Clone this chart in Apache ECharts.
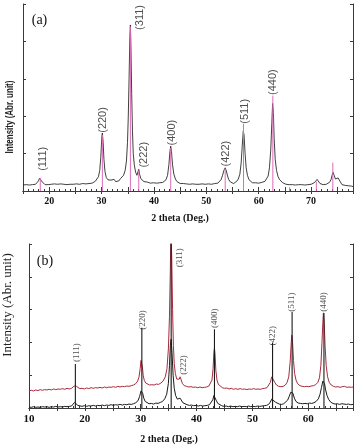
<!DOCTYPE html>
<html><head><meta charset="utf-8">
<script src="https://cdn.jsdelivr.net/npm/echarts@6/dist/echarts.min.js"></script>
<style>html,body{margin:0;padding:0;background:#fff}#c{width:357px;height:448px}</style>
</head><body><div id="c"></div>
<script>
// ---------- Panel (a) ----------
const curveA = [
[15.0,0.16],[15.3,0.14],[15.6,0.17],[15.9,0.15],[16.2,0.16],[16.5,0.14],[16.8,0.17],[17.1,0.16],[17.4,0.18],[17.7,0.21],[17.95,0.27],[18.15,0.34],[18.3,0.38],[18.5,0.33],[18.7,0.24],[18.95,0.19],[19.2,0.17],[19.5,0.15],[19.8,0.17],[20.1,0.16],[20.4,0.18],[20.7,0.16],[21.0,0.19],[21.3,0.17],[21.6,0.18],[21.9,0.16],[22.2,0.19],[22.5,0.17],[22.8,0.18],[23.1,0.2],[23.4,0.17],[23.7,0.19],[24.0,0.18],[24.3,0.2],[24.6,0.18],[24.9,0.21],[25.2,0.19],[25.5,0.2],[25.8,0.18],[26.1,0.21],[26.4,0.2],[26.7,0.22],[27.0,0.19],[27.3,0.21],[27.6,0.2],[27.9,0.23],[28.2,0.21],[28.5,0.24],[28.8,0.26],[29.1,0.3],[29.4,0.38],[29.65,0.55],[29.85,0.9],[30.05,1.45],[30.15,1.55],[30.3,1.3],[30.45,0.85],[30.65,0.52],[30.9,0.36],[31.2,0.3],[31.5,0.26],[31.8,0.29],[32.1,0.24],[32.4,0.31],[32.7,0.25],[33.0,0.3],[33.3,0.27],[33.6,0.33],[33.9,0.36],[34.2,0.42],[34.5,0.55],[34.75,0.8],[34.95,1.3],[35.1,2.0],[35.25,3.0],[35.4,4.1],[35.5,4.44],[35.6,3.9],[35.75,2.6],[35.9,1.6],[36.05,1.0],[36.25,0.7],[36.5,0.5],[36.75,0.42],[36.95,0.52],[37.1,0.58],[37.25,0.45],[37.5,0.33],[37.8,0.28],[38.1,0.25],[38.4,0.22],[38.7,0.24],[39.0,0.2],[39.3,0.21],[39.6,0.19],[39.9,0.22],[40.2,0.2],[40.5,0.21],[40.8,0.19],[41.1,0.22],[41.4,0.2],[41.7,0.23],[42.0,0.25],[42.3,0.3],[42.6,0.42],[42.85,0.7],[43.05,1.05],[43.2,1.2],[43.35,1.05],[43.55,0.7],[43.8,0.45],[44.1,0.32],[44.4,0.25],[44.7,0.22],[45.0,0.2],[45.3,0.18],[45.6,0.2],[45.9,0.17],[46.2,0.19],[46.5,0.17],[46.8,0.18],[47.1,0.16],[47.4,0.19],[47.7,0.17],[48.0,0.18],[48.3,0.16],[48.6,0.18],[48.9,0.17],[49.2,0.19],[49.5,0.17],[49.8,0.18],[50.1,0.16],[50.4,0.19],[50.7,0.17],[51.0,0.18],[51.3,0.17],[51.6,0.2],[51.9,0.19],[52.2,0.21],[52.5,0.24],[52.8,0.3],[53.1,0.42],[53.35,0.55],[53.6,0.62],[53.8,0.55],[54.05,0.4],[54.3,0.3],[54.6,0.24],[54.9,0.22],[55.2,0.2],[55.5,0.22],[55.8,0.26],[56.1,0.32],[56.4,0.45],[56.65,0.75],[56.85,1.2],[57.05,1.6],[57.2,1.5],[57.4,1.0],[57.6,0.62],[57.85,0.42],[58.15,0.3],[58.5,0.25],[58.8,0.22],[59.1,0.2],[59.4,0.22],[59.7,0.19],[60.0,0.21],[60.3,0.2],[60.6,0.23],[60.9,0.22],[61.2,0.26],[61.5,0.3],[61.8,0.4],[62.05,0.62],[62.3,1.1],[62.5,1.8],[62.65,2.34],[62.8,2.1],[62.95,1.4],[63.15,0.85],[63.4,0.55],[63.7,0.38],[64.0,0.3],[64.3,0.25],[64.6,0.22],[64.9,0.2],[65.2,0.18],[65.5,0.2],[65.8,0.17],[66.1,0.19],[66.4,0.17],[66.7,0.18],[67.0,0.16],[67.3,0.18],[67.6,0.17],[67.9,0.19],[68.2,0.17],[68.5,0.18],[68.8,0.16],[69.1,0.18],[69.4,0.17],[69.7,0.19],[70.0,0.18],[70.3,0.2],[70.6,0.22],[70.9,0.27],[71.15,0.31],[71.4,0.26],[71.7,0.2],[72.0,0.18],[72.3,0.17],[72.6,0.19],[72.9,0.18],[73.2,0.2],[73.5,0.23],[73.8,0.3],[74.0,0.42],[74.2,0.5],[74.4,0.42],[74.65,0.32],[74.9,0.3],[75.15,0.35],[75.35,0.33],[75.6,0.24],[75.9,0.17],[76.2,0.14],[76.5,0.15],[76.8,0.13],[77.1,0.14],[77.4,0.12],[77.7,0.13],[78.0,0.12]
];
const sticksAx = [18.3, 30.15, 35.5, 37.1, 43.2, 53.6, 57.1, 62.7, 65.9, 71.0, 74.15];
const sticksAh = [0.35, 1.5, 4.4, 0.55, 1.15, 0.6, 1.8, 2.55, 0.1, 0.25, 0.76];
const hklA   = ['(111)','(220)','(311)','(222)','(400)','(422)','(511)','(440)'];
const hklAx  = [18.8, 30.3, 37.3, 38.0, 43.5, 53.75, 57.4, 62.7];
const hklAy  = [0.86, 1.9, 4.64, 0.97, 1.56, 1.0, 2.13, 2.91];

// ---------- Panel (b) ----------
const redB = [
[10,0.52],[10.4,0.54],[10.8,0.52],[11.2,0.55],[11.6,0.53],[12.0,0.56],[12.4,0.54],[12.8,0.56],[13.2,0.55],[13.6,0.57],[14.0,0.55],[14.4,0.58],[14.8,0.56],[15.2,0.58],[15.6,0.57],[16.0,0.59],[16.4,0.57],[16.8,0.6],[17.2,0.58],[17.6,0.6],[17.9,0.62],[18.1,0.67],[18.3,0.72],[18.5,0.66],[18.75,0.61],[19.1,0.59],[19.5,0.6],[19.9,0.58],[20.3,0.61],[20.7,0.59],[21.1,0.62],[21.5,0.6],[21.9,0.62],[22.3,0.61],[22.7,0.63],[23.1,0.61],[23.5,0.64],[23.9,0.62],[24.3,0.64],[24.7,0.63],[25.1,0.65],[25.5,0.63],[25.9,0.66],[26.3,0.64],[26.7,0.66],[27.1,0.65],[27.5,0.67],[27.9,0.66],[28.3,0.68],[28.7,0.7],[29.1,0.74],[29.45,0.82],[29.7,0.95],[29.9,1.2],[30.05,1.45],[30.15,1.5],[30.3,1.25],[30.45,0.98],[30.65,0.84],[30.9,0.76],[31.2,0.72],[31.6,0.7],[32.0,0.71],[32.4,0.7],[32.8,0.73],[33.2,0.72],[33.6,0.76],[34.0,0.82],[34.4,0.95],[34.7,1.2],[34.95,1.8],[35.15,2.8],[35.3,4.2],[35.4,5.4],[35.55,4.6],[35.7,3.0],[35.85,1.9],[36.0,1.35],[36.2,1.05],[36.45,0.88],[36.7,0.82],[36.9,0.88],[37.05,0.95],[37.2,0.88],[37.45,0.75],[37.8,0.68],[38.2,0.66],[38.6,0.64],[39.0,0.65],[39.4,0.63],[39.8,0.64],[40.2,0.62],[40.6,0.64],[41.0,0.62],[41.4,0.63],[41.8,0.64],[42.2,0.67],[42.5,0.72],[42.75,0.85],[42.95,1.2],[43.1,1.7],[43.2,1.83],[43.3,1.65],[43.45,1.15],[43.65,0.85],[43.9,0.72],[44.2,0.66],[44.6,0.62],[45.0,0.6],[45.4,0.61],[45.8,0.58],[46.2,0.6],[46.6,0.57],[47.0,0.59],[47.4,0.57],[47.8,0.59],[48.2,0.57],[48.6,0.58],[49.0,0.56],[49.4,0.58],[49.8,0.57],[50.2,0.59],[50.6,0.57],[51.0,0.58],[51.4,0.57],[51.8,0.59],[52.2,0.6],[52.6,0.62],[52.95,0.68],[53.2,0.78],[53.45,0.95],[53.6,1.0],[53.75,0.92],[54.0,0.78],[54.3,0.7],[54.7,0.66],[55.1,0.65],[55.5,0.66],[55.9,0.7],[56.2,0.78],[56.5,0.95],[56.75,1.4],[56.95,2.0],[57.05,2.22],[57.2,1.95],[57.35,1.45],[57.55,1.05],[57.8,0.85],[58.1,0.74],[58.5,0.68],[58.9,0.66],[59.3,0.65],[59.7,0.66],[60.1,0.65],[60.5,0.67],[60.9,0.68],[61.3,0.71],[61.7,0.78],[62.0,0.92],[62.25,1.3],[62.45,2.0],[62.6,2.6],[62.7,2.9],[62.85,2.6],[63.0,1.9],[63.2,1.3],[63.45,0.95],[63.75,0.78],[64.1,0.7],[64.5,0.66],[64.9,0.64],[65.3,0.65],[65.7,0.63],[66.1,0.65],[66.5,0.66],[66.9,0.63],[67.3,0.64],[67.7,0.63],[68.0,0.64]
];
const blackB = [
[10,0.03],[10.4,0.02],[10.8,0.04],[11.2,0.02],[11.6,0.03],[12.0,0.02],[12.4,0.04],[12.8,0.03],[13.2,0.04],[13.6,0.02],[14.0,0.04],[14.4,0.03],[14.8,0.05],[15.2,0.03],[15.6,0.04],[16.0,0.03],[16.4,0.05],[16.8,0.04],[17.2,0.05],[17.6,0.06],[17.95,0.1],[18.15,0.17],[18.3,0.21],[18.5,0.14],[18.75,0.08],[19.1,0.06],[19.5,0.05],[19.9,0.07],[20.3,0.05],[20.7,0.07],[21.1,0.06],[21.5,0.08],[21.9,0.06],[22.3,0.08],[22.7,0.07],[23.1,0.09],[23.5,0.07],[23.9,0.09],[24.3,0.08],[24.7,0.1],[25.1,0.08],[25.5,0.1],[25.9,0.09],[26.3,0.11],[26.7,0.09],[27.1,0.11],[27.5,0.1],[27.9,0.12],[28.3,0.11],[28.7,0.13],[29.1,0.16],[29.5,0.22],[29.8,0.35],[30.05,0.52],[30.2,0.55],[30.35,0.45],[30.55,0.3],[30.8,0.2],[31.1,0.15],[31.5,0.13],[31.9,0.14],[32.3,0.12],[32.7,0.15],[33.1,0.14],[33.5,0.17],[33.9,0.2],[34.3,0.28],[34.65,0.42],[34.95,0.75],[35.15,1.3],[35.3,1.9],[35.45,2.1],[35.6,1.7],[35.8,1.0],[36.0,0.6],[36.25,0.38],[36.55,0.27],[36.85,0.26],[37.05,0.3],[37.25,0.24],[37.55,0.16],[37.9,0.12],[38.3,0.1],[38.7,0.08],[39.1,0.09],[39.5,0.07],[39.9,0.08],[40.3,0.06],[40.7,0.08],[41.1,0.06],[41.5,0.07],[41.9,0.08],[42.3,0.1],[42.65,0.15],[42.9,0.25],[43.1,0.38],[43.2,0.42],[43.35,0.35],[43.55,0.22],[43.8,0.14],[44.1,0.09],[44.5,0.07],[44.9,0.05],[45.3,0.06],[45.7,0.04],[46.1,0.06],[46.5,0.04],[46.9,0.05],[47.3,0.04],[47.7,0.06],[48.1,0.04],[48.5,0.05],[48.9,0.04],[49.3,0.06],[49.7,0.04],[50.1,0.05],[50.5,0.04],[50.9,0.06],[51.3,0.05],[51.7,0.06],[52.1,0.07],[52.5,0.08],[52.9,0.11],[53.2,0.18],[53.45,0.27],[53.6,0.3],[53.8,0.25],[54.1,0.18],[54.4,0.14],[54.8,0.12],[55.2,0.11],[55.6,0.13],[55.95,0.17],[56.3,0.24],[56.6,0.36],[56.85,0.48],[57.05,0.52],[57.25,0.45],[57.5,0.3],[57.8,0.2],[58.2,0.15],[58.6,0.14],[59.0,0.13],[59.4,0.14],[59.8,0.13],[60.2,0.15],[60.6,0.14],[61.0,0.16],[61.4,0.2],[61.8,0.28],[62.1,0.42],[62.35,0.62],[62.6,0.82],[62.75,0.86],[62.9,0.75],[63.1,0.55],[63.35,0.38],[63.65,0.26],[64.0,0.18],[64.4,0.14],[64.8,0.12],[65.2,0.13],[65.6,0.11],[66.0,0.13],[66.4,0.12],[66.8,0.11],[67.2,0.12],[67.6,0.1],[68.0,0.11]
];
const sticksBx = [18.3, 30.2, 35.45, 43.2, 53.6, 57.1, 62.8];
const sticksBh = [1.34, 2.45, 5.0, 2.4, 2.0, 2.93, 2.9];
const hklB   = ['(111)','(220)','(311)','(222)','(400)','(422)','(511)','(440)'];
const hklBx  = [18.5, 30.3, 37.0, 37.75, 43.3, 53.7, 57.0, 62.7];
const hklBy  = [1.69, 2.68, 4.58, 1.31, 2.74, 2.2, 3.23, 3.23];

const xTicksA = [20, 30, 40, 50, 60, 70];
const xTicksB = [10, 20, 30, 40, 50, 60];

const chart = echarts.init(document.getElementById('c'), null, {renderer: 'canvas'});
const frame = '#3a3a3a';
const serif = 'Liberation Serif';
const sans = 'Liberation Sans';

function stickSeries(xs, hs, xi, yi, color, w) {
  return {
    type: 'custom', xAxisIndex: xi, yAxisIndex: yi, silent: true, z: 4, clip: true,
    data: xs.map((x, i) => [x, hs[i]]),
    renderItem: function (params, api) {
      const p0 = api.coord([api.value(0), 0]);
      const p1 = api.coord([api.value(0), api.value(1)]);
      return {type: 'line', shape: {x1: p0[0], y1: p0[1], x2: p1[0], y2: p1[1]},
              style: {stroke: color, lineWidth: w}};
    }
  };
}
function labelSeries(names, xs, ys, xi, yi, font, size) {
  return {
    type: 'scatter', xAxisIndex: xi, yAxisIndex: yi, silent: true, z: 6,
    symbol: 'circle', symbolSize: 1, itemStyle: {color: 'rgba(255,255,255,0)'},
    data: names.map((n, i) => ({value: [xs[i], ys[i]], name: n})),
    label: {show: true, position: 'inside', rotate: 90, formatter: '{b}',
            fontFamily: font, fontSize: size, color: '#222', align: 'center', verticalAlign: 'middle'},
    labelLayout: {hideOverlap: false}
  };
}
function xAxes(grid, min, max, labels, labelSize, labelMargin) {
  return [
    {type: 'value', gridIndex: grid, position: 'bottom', min: min, max: max, interval: 5,
     axisLine: {show: true, lineStyle: {color: frame, width: 1}},
     axisTick: {show: true, inside: true, length: 4, lineStyle: {color: frame}},
     minorTick: {show: true, splitNumber: 5, length: 2, lineStyle: {color: frame}},
     splitLine: {show: false},
     axisLabel: {show: true, interval: 0, margin: labelMargin, fontFamily: serif, fontWeight: 'bold',
                 fontSize: labelSize, color: '#111', hideOverlap: false,
                 formatter: v => labels.indexOf(v) >= 0 ? String(v) : ''}},
    {type: 'value', gridIndex: grid, position: 'top', min: min, max: max, interval: 5,
     axisLine: {show: true, lineStyle: {color: frame, width: 1}},
     axisTick: {show: true, inside: true, length: 3, lineStyle: {color: frame}},
     splitLine: {show: false}, axisLabel: {show: false}}
  ];
}
function yAxes(grid) {
  return [
    {type: 'value', gridIndex: grid, position: 'left', min: 0, max: 5, interval: 1,
     axisLine: {show: true, lineStyle: {color: frame, width: 1}},
     axisTick: {show: true, inside: true, length: 3, lineStyle: {color: frame}},
     splitLine: {show: false}, axisLabel: {show: false}},
    {type: 'value', gridIndex: grid, position: 'right', min: 0, max: 5, interval: 1,
     axisLine: {show: true, lineStyle: {color: frame, width: 1}},
     axisTick: {show: true, inside: true, length: 3, lineStyle: {color: frame}},
     splitLine: {show: false}, axisLabel: {show: false}}
  ];
}

const option = {
  animation: false,
  backgroundColor: '#fff',
  grid: [
    {left: 23, right: 4, top: 4, bottom: 257, containLabel: false},
    {left: 29, right: 4, top: 244, bottom: 40, containLabel: false}
  ],
  xAxis: [...xAxes(0, 15, 78, xTicksA, 10, 5), ...xAxes(1, 10, 68, xTicksB, 11, 6)],
  yAxis: [...yAxes(0), ...yAxes(1)],
  series: [
    {type: 'line', xAxisIndex: 0, yAxisIndex: 0, data: curveA, showSymbol: false, symbol: 'none',
     lineStyle: {color: '#2a2a2a', width: 0.9}, z: 3, silent: true},
    stickSeries(sticksAx, sticksAh, 0, 0, '#dc6cb8', 1),
    labelSeries(hklA, hklAx, hklAy, 0, 0, sans, 11),
    {type: 'line', xAxisIndex: 2, yAxisIndex: 2, data: redB, showSymbol: false, symbol: 'none',
     lineStyle: {color: '#a82a3c', width: 1}, z: 3, silent: true, clip: true},
    {type: 'line', xAxisIndex: 2, yAxisIndex: 2, data: blackB, showSymbol: false, symbol: 'none',
     lineStyle: {color: '#1a1a1a', width: 1}, z: 3, silent: true, clip: true},
    stickSeries(sticksBx, sticksBh, 2, 2, '#1a1a1a', 1.1),
    labelSeries(hklB, hklBx, hklBy, 2, 2, serif, 9)
  ],
  graphic: [
    {type: 'text', x: 39.5, y: 20, silent: true,
     style: {text: '(a)', font: '14px "Liberation Serif"', fill: '#111', textAlign: 'center', textVerticalAlign: 'middle'}},
    {type: 'text', x: 45, y: 261, silent: true,
     style: {text: '(b)', font: '14px "Liberation Serif"', fill: '#111', textAlign: 'center', textVerticalAlign: 'middle'}},
    {type: 'text', x: 180, y: 218, silent: true,
     style: {text: '2 theta (Deg.)', font: 'bold 10px "Liberation Serif"', fill: '#111', textAlign: 'center', textVerticalAlign: 'middle'}},
    {type: 'text', x: 169, y: 439, silent: true,
     style: {text: '2 theta (Deg.)', font: 'bold 10px "Liberation Serif"', fill: '#111', textAlign: 'center', textVerticalAlign: 'middle'}},
    {type: 'text', x: 10, y: 117, rotation: Math.PI / 2, scaleX: 0.8, silent: true,
     style: {text: 'Intensity (Abr. unit)', font: 'bold 10px "Liberation Sans"', fill: '#222', textAlign: 'center', textVerticalAlign: 'middle'}},
    {type: 'text', x: 8, y: 305, rotation: Math.PI / 2, silent: true,
     style: {text: 'Intensity (Abr. unit)', font: '13px "Liberation Serif"', fill: '#222', textAlign: 'center', textVerticalAlign: 'middle'}}
  ]
};
chart.setOption(option);
</script>
</body></html>
